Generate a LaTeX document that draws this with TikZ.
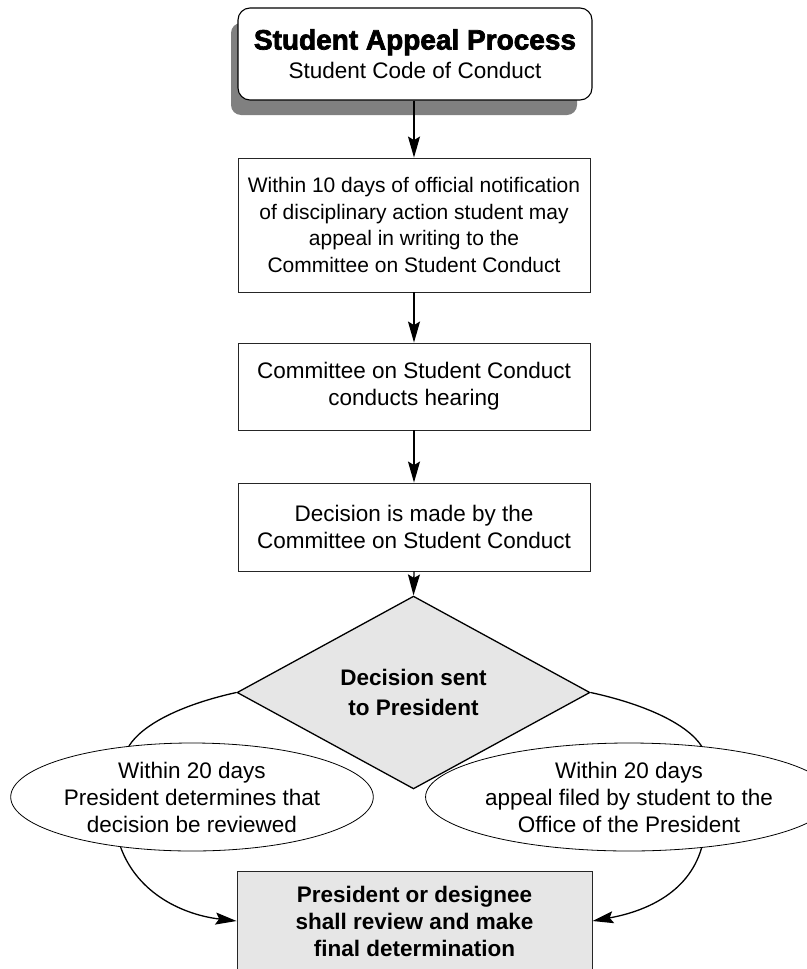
\documentclass[tikz,border=0pt]{standalone}
\usepackage{fontspec}
\setmainfont{Liberation Sans}
\newfontfamily\heavyfont{Liberation Sans Bold}[FakeBold=2.5]
\usetikzlibrary{shapes.geometric,arrows.meta}
\definecolor{boxgray}{HTML}{E6E6E6}
\definecolor{shadowgray}{HTML}{808080}
\begin{document}
\begin{tikzpicture}[x=1pt,y=-1pt,
  >={Stealth[length=21pt,width=12pt,inset=3.5pt]},
  txt/.style={font=\fontsize{22.5}{27}\selectfont, align=center},
  procbox/.style={txt, draw=black!85, line width=0.9pt, rectangle, minimum width=352pt, inner sep=0pt},
  oval/.style={txt, draw=black, line width=0.8pt, ellipse, inner sep=0pt},
  flow/.style={line width=1.3pt, ->},
  link/.style={line width=1.3pt}
]
\useasboundingbox (0,0) rectangle (806,969);
% shadow of the title box
\fill[shadowgray, rounded corners=10pt] (231,23) rectangle (577,115);
\node[draw=black, line width=1.1pt, fill=white, rounded corners=12pt, minimum width=354pt, minimum height=92pt, inner sep=0pt, align=center, font=\fontsize{22.5}{29}\selectfont] (title) at (415,54)
  {{\heavyfont\fontsize{28}{29}\selectfont Student Appeal Process}\\{\fontsize{22.5}{29}\selectfont Student Code of Conduct}};
\node[procbox, minimum height=134pt, font=\fontsize{21}{26.5}\selectfont] (b2) at (414,225)
  {Within 10 days of official notification\\of disciplinary action student may\\appeal in writing to the\\Committee on Student Conduct};
\node[procbox, minimum height=87pt] (b3) at (414,386.5)
  {Committee on Student Conduct\\conducts hearing};
\node[procbox, minimum height=88pt] (b4) at (414,527)
  {Decision is made by the\\Committee on Student Conduct};
\node[txt, font=\bfseries\fontsize{22.5}{30}\selectfont, diamond, draw=black, line width=1.3pt, fill=boxgray, minimum width=353pt, minimum height=139pt, inner sep=0pt] (dec) at (413.5,692.5)
  {Decision sent\\to President};
\node[oval, minimum width=360pt, minimum height=108pt] (lell) at (192,797)
  {Within 20 days\\President determines that\\decision be reviewed};
\node[oval, minimum width=354pt, minimum height=108pt] (rell) at (629,797)
  {Within 20 days\\appeal filed by student to the\\Office of the President};
\node[txt, font=\bfseries\fontsize{22.5}{27}\selectfont, rectangle, draw=black!85, line width=0.9pt, fill=boxgray, minimum width=355pt, minimum height=100pt, inner sep=0pt] (final) at (414.5,921)
  {President or designee\\shall review and make\\final determination};
% connectors
\draw[flow] (title.south -| b2.north) -- (b2.north);
\draw[flow] (b2) -- (b3);
\draw[flow] (b3) -- (b4);
\draw[flow] (b4.south) -- (dec.north);
\draw[link] (dec.west) .. controls (180,705) and (142,725) .. (lell.141);
\draw[link] (dec.east) .. controls (648,705) and (688,725) .. (rell.35);
\draw[flow] (lell.215) .. controls (138,895) and (185,915) .. (final.west);
\draw[flow] (rell.-35) .. controls (688,895) and (642,912) .. (final.east);
\end{tikzpicture}
\end{document}
